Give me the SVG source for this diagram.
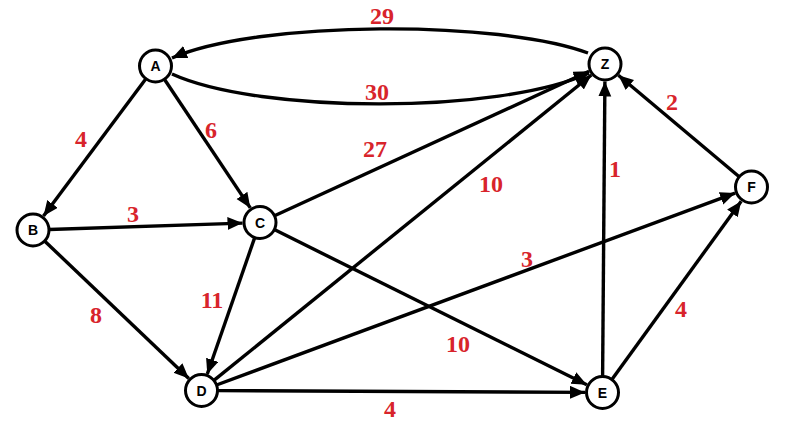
<svg xmlns="http://www.w3.org/2000/svg" width="785" height="423" viewBox="0 0 785 423">
<defs>
<marker id="arr" markerUnits="userSpaceOnUse" markerWidth="16" markerHeight="14" refX="15" refY="6.5" orient="auto">
<path d="M0,0 L15,6.5 L0,13 z" fill="#000"/>
</marker>
<style>
.e{stroke:#000;stroke-width:3.4;fill:none;marker-end:url(#arr)}
.n circle{fill:#fff;stroke:#000;stroke-width:3}
.n text{font-family:"Liberation Sans",Arial,sans-serif;font-weight:bold;font-size:14px;text-anchor:middle;fill:#000}
.w{font-family:'Liberation Serif','Times New Roman',serif;font-weight:bold;font-size:24px;fill:#d8242b;text-anchor:middle}
</style>
</defs>
<rect width="785" height="423" fill="#fff"/>
<g id="connectors">
<path class="e" d="M588,53 C500,20 260,20 172,58"/>
<path class="e" d="M172,74 C260,114 500,114 589,73"/>
<line class="e" x1="145.9" y1="78.8" x2="43.5" y2="216"/>
<line class="e" x1="164.4" y1="79.3" x2="250.3" y2="207.9"/>
<line class="e" x1="49" y1="229.5" x2="242.5" y2="223.1"/>
<line class="e" x1="44.6" y1="241" x2="188.8" y2="378.4"/>
<line class="e" x1="254.7" y1="237.6" x2="207.3" y2="374"/>
<line class="e" x1="274.5" y1="215.8" x2="589.1" y2="71.3"/>
<line class="e" x1="213.9" y1="380.4" x2="591.4" y2="75"/>
<line class="e" x1="216.5" y1="385" x2="735.1" y2="193.1"/>
<line class="e" x1="217.5" y1="390.6" x2="585" y2="392.4"/>
<line class="e" x1="274.3" y1="229.6" x2="586.8" y2="384.7"/>
<line class="e" x1="602.6" y1="376.5" x2="604.9" y2="81.5"/>
<line class="e" x1="611.9" y1="379.5" x2="741.2" y2="201.2"/>
<line class="e" x1="739.2" y1="176.7" x2="618.4" y2="75.3"/>
</g>
<g id="labels" font-family="Liberation Serif, Times New Roman, serif" font-weight="bold">
<text class="w" x="382" y="24">29</text>
<text class="w" x="377" y="100">30</text>
<text class="w" x="81" y="147">4</text>
<text class="w" x="211" y="138">6</text>
<text class="w" x="133" y="222">3</text>
<text class="w" x="375" y="157">27</text>
<text class="w" x="491" y="192">10</text>
<text class="w" x="615" y="177">1</text>
<text class="w" x="672" y="110">2</text>
<text class="w" x="527" y="267">3</text>
<text class="w" x="212" y="308">11</text>
<text class="w" x="96" y="323">8</text>
<text class="w" x="458" y="352">10</text>
<text class="w" x="390" y="417">4</text>
<text class="w" x="681" y="317">4</text>
</g>
<g id="A" class="n"><circle cx="155.5" cy="66" r="16"/><text x="155.5" y="71">A</text></g>
<g id="Z" class="n"><circle cx="605" cy="64" r="16"/><text x="605" y="69">Z</text></g>
<g id="B" class="n"><circle cx="33" cy="230" r="16"/><text x="33" y="235">B</text></g>
<g id="C" class="n"><circle cx="260" cy="222.5" r="16"/><text x="260" y="227.5">C</text></g>
<g id="D" class="n"><circle cx="201.5" cy="390.5" r="16"/><text x="201.5" y="395.5">D</text></g>
<g id="E" class="n"><circle cx="602.5" cy="392.5" r="16"/><text x="602.5" y="397.5">E</text></g>
<g id="F" class="n"><circle cx="751.5" cy="187" r="16"/><text x="751.5" y="192">F</text></g>
</svg>
